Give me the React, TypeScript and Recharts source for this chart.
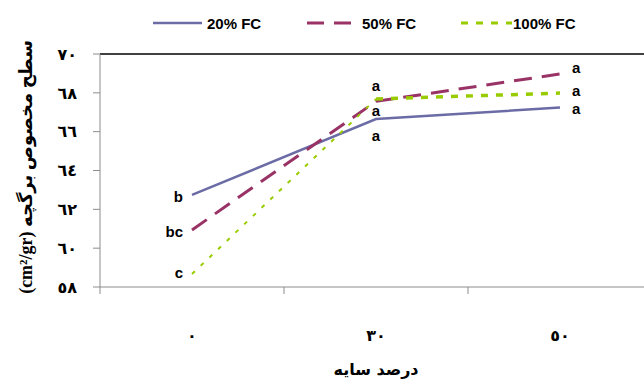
import React from 'react';
import { LineChart, Line, XAxis, YAxis, ReferenceLine, Legend, LabelList, Label } from 'recharts';

const categories = ['٠', '٣٠', '٥٠'];
const seriesNames = ['20% FC', '50% FC', '100% FC'];
const fc20 = [62.74, 66.65, 67.24];
const fc50 = [60.94, 67.56, 68.97];
const fc100 = [58.67, 67.68, 67.99];
const letters20 = ['b', 'a', 'a'];
const letters50 = ['bc', 'a', 'a'];
const letters100 = ['c', 'a', 'a'];
const yTicks = [58, 60, 62, 64, 66, 68, 70];
const yTickLabels = ['٥٨', '٦٠', '٦٢', '٦٤', '٦٦', '٦٨', '٧٠'];
const xTitle = 'درصد سایه';
const yTitle = '(cm²/gr) سطح مخصوص برگچه';

const table = categories.map((c, i) => ({
  x: i + 0.5,
  cat: c,
  fc20: fc20[i],
  fc50: fc50[i],
  fc100: fc100[i],
  fc100a: i <= 1 ? fc100[i] : null,
  fc100b: i >= 1 ? fc100[i] : null,
  l20: letters20[i],
  l50: letters50[i],
  l100: letters100[i],
}));

const xTickValues = [0, 0.5, 1, 1.5, 2, 2.5, 3];

const BLUE = '#6B6BA6';
const RED = '#993366';
const GREEN = '#99CC00';
const GRAY = '#8C8C8C';

const legendItems = [
  { name: seriesNames[0], color: BLUE, dash: undefined as string | undefined, width: 2.5, x1: 153, x2: 202, tx: 207 },
  { name: seriesNames[1], color: RED, dash: '17 10', width: 3, x1: 307, x2: 352, tx: 362 },
  { name: seriesNames[2], color: GREEN, dash: '7 8', width: 3, x1: 461, x2: 512, tx: 513 },
];

const placements: Record<string, { dx: number; dy: number; anchor: 'start' | 'middle' | 'end' }[]> = {
  l20: [
    { dx: -9, dy: 2, anchor: 'end' },
    { dx: 0, dy: 16, anchor: 'middle' },
    { dx: 12, dy: 1, anchor: 'start' },
  ],
  l50: [
    { dx: -9, dy: 2, anchor: 'end' },
    { dx: 0, dy: -16, anchor: 'middle' },
    { dx: 12, dy: -6, anchor: 'start' },
  ],
  l100: [
    { dx: -9, dy: -1, anchor: 'end' },
    { dx: 0, dy: 11, anchor: 'middle' },
    { dx: 12, dy: -3, anchor: 'start' },
  ],
};

const makeLetter = (key: string) => (props: any) => {
  const { x, y, index, value } = props;
  if (value == null || x == null || y == null) return null;
  const p = placements[key][index];
  return (
    <text
      x={x + p.dx}
      y={y + p.dy}
      textAnchor={p.anchor}
      dominantBaseline="central"
      fontFamily="Liberation Sans, Arial, sans-serif"
      fontWeight="bold"
      fontSize={15}
      fill="#000"
    >
      {value}
    </text>
  );
};

const XTick = (props: any) => {
  const { x, y, payload } = props;
  const v = payload.value as number;
  if (Number.isInteger(v)) {
    return <line x1={x} y1={y} x2={x} y2={y + 7} stroke={GRAY} strokeWidth={1} />;
  }
  const idx = Math.floor(v);
  return (
    <text x={x} y={y + 48} textAnchor="middle" dominantBaseline="central" fontSize={16} fontWeight="bold" fontFamily="DejaVu Sans, sans-serif" fill="#000">
      {categories[idx]}
    </text>
  );
};

const LegendContent = () => (
  <svg width={644} height={40} style={{ display: 'block' }}>
    {legendItems.map((it) => (
      <g key={it.name}>
        <line x1={it.x1} y1={23} x2={it.x2} y2={23} stroke={it.color} strokeWidth={it.width} strokeDasharray={it.dash} />
        <text x={it.tx} y={23} dominantBaseline="central" fontFamily="Liberation Sans, Arial, sans-serif" fontWeight="bold" fontSize={15} fill="#000">
          {it.name}
        </text>
      </g>
    ))}
  </svg>
);

export default function App() {
  return (
    <div style={{ position: 'absolute', left: 0, top: 0, width: 644, height: 380, overflow: 'hidden', background: '#fff' }}>
      <LineChart width={644} height={380} data={table} margin={{ top: 54, right: -8, left: 0, bottom: 0 }}>
        <Legend
          layout="horizontal"
          verticalAlign="middle"
          align="center"
          content={<LegendContent />}
          wrapperStyle={{ position: 'absolute', top: 0, left: 0, width: 644, height: 40 }}
        />
        <XAxis
          dataKey="x"
          type="number"
          domain={[0, 3]}
          ticks={xTickValues}
          interval={0}
          height={93}
          tickSize={0}
          tickMargin={0}
          tickLine={false}
          tick={<XTick />}
          axisLine={{ stroke: GRAY, strokeWidth: 1 }}
        >
          <Label
            content={() => (
              <text x={376} y={369} textAnchor="middle" dominantBaseline="central" fontSize={16} fontWeight="bold" fontFamily="DejaVu Sans, sans-serif" fill="#000">
                {xTitle}
              </text>
            )}
          />
        </XAxis>
        <YAxis
          type="number"
          domain={[58, 70]}
          ticks={yTicks}
          interval={0}
          width={100}
          tickSize={7}
          tickMargin={16}
          tickLine={{ stroke: GRAY }}
          axisLine={{ stroke: GRAY, strokeWidth: 1 }}
          tick={{ fontSize: 16, fontWeight: 'bold', fill: '#000', fontFamily: 'DejaVu Sans, sans-serif' }}
          tickFormatter={(v: number) => yTickLabels[yTicks.indexOf(v)]}
        >
          <Label
            content={() => (
              <text
                x={26}
                y={167}
                transform="rotate(-90 26 167)"
                textAnchor="middle"
                dominantBaseline="central"
                direction="ltr"
                fontSize={18}
                fontWeight="bold"
                fontFamily="Liberation Serif, Times New Roman, DejaVu Sans, serif"
                fill="#000"
              >
                {yTitle}
              </text>
            )}
          />
        </YAxis>
        <ReferenceLine y={70} stroke="#000" strokeWidth={1.5} />
        <Line dataKey="fc20" name={seriesNames[0]} stroke={BLUE} strokeWidth={2.5} dot={false} activeDot={false} isAnimationActive={false}>
          <LabelList dataKey="l20" content={makeLetter('l20')} />
        </Line>
        <Line dataKey="fc50" name={seriesNames[1]} stroke={RED} strokeWidth={3} strokeDasharray="18 10" dot={false} activeDot={false} isAnimationActive={false}>
          <LabelList dataKey="l50" content={makeLetter('l50')} />
        </Line>
        <Line dataKey="fc100a" name={seriesNames[2]} stroke={GREEN} strokeWidth={2} strokeDasharray="4 8" dot={false} activeDot={false} connectNulls={false} isAnimationActive={false} />
        <Line dataKey="fc100b" name={seriesNames[2] + ' '} legendType="none" stroke={GREEN} strokeWidth={3.5} strokeDasharray="7 8" dot={false} activeDot={false} connectNulls={false} isAnimationActive={false} />
        <Line dataKey="fc100" name={seriesNames[2] + '  '} legendType="none" stroke="none" dot={false} activeDot={false} isAnimationActive={false}>
          <LabelList dataKey="l100" content={makeLetter('l100')} />
        </Line>
      </LineChart>
    </div>
  );
}
